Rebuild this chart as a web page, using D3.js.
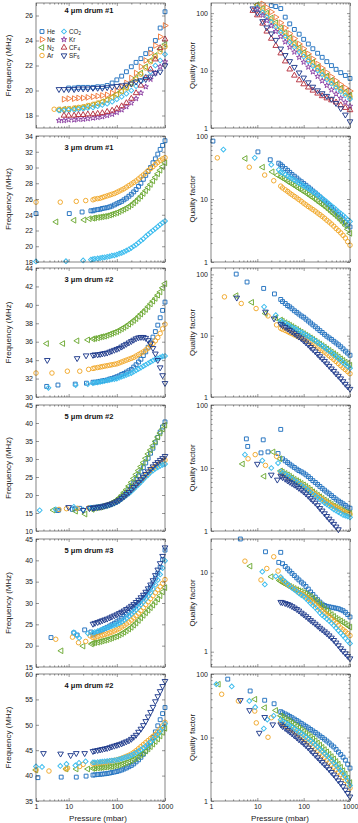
<!DOCTYPE html>
<html>
<head>
<meta charset="utf-8">
<script src="https://cdn.jsdelivr.net/npm/d3@7"></script>
<style>
body{margin:0;background:#fff}
text{font-family:"Liberation Sans",Arial,Helvetica,sans-serif}
</style>
</head>
<body>
<svg id="fig" width="358" height="823"></svg>
<script>
var svg = d3.select('#fig');
var n = null;

// ---- data (pressure in mbar, frequency in MHz, quality factor) ----
var gasNames = ['He','Ne','N2','Ar','CO2','Kr','CF4','SF6'];
var titles = ['4 \u03bcm drum #1','3 \u03bcm drum #1','3 \u03bcm drum #2','5 \u03bcm drum #2','5 \u03bcm drum #3','4 \u03bcm drum #2'];
var fTicks = [[18,20,22,24,26],[18,20,22,24,26,28,30,32,34],[30,32,34,36,38,40,42,44],
              [10,15,20,25,30,35,40,45],[15,20,25,30,35,40,45],[35,40,45,50,55,60]];
var qTicks = [[1,10,100],[1,10,100],[1,10,100],[1,10,100],[1,10],[1,10,100]];
var pTicks = [1,10,100,1000];

// dense part of the sweeps (devices 2-6)
var densP = [32,35,40,45,50,56,63,71,79,89,100,112,126,141,158,178,200,224,251,282,316,355,398,447,501,562,631,708,794,891,1000];

// device 1: 4 um drum #1 (one pressure list for all gases)
var d1_p = [5,6.3,8,10,13,16,20,25,32,40,50,63,80,100,126,158,200,251,316,398,501,631,794,1000];
var d1_He_f  = [n,n,n,20.2,20.2,20.25,20.25,20.25,20.25,20.3,20.3,20.4,20.6,20.85,21.15,21.5,21.9,22.25,22.55,22.95,23.3,24.0,25.0,26.3];
var d1_Ne_f  = [n,n,19.3,19.35,19.35,19.4,19.4,19.45,19.5,19.55,19.6,19.65,19.8,20.0,20.3,20.6,21.0,21.4,21.9,22.4,23.0,23.6,24.3,25.2];
var d1_N2_f  = [n,18.45,18.5,18.5,18.55,18.6,18.65,18.75,18.85,18.95,19.1,19.25,19.45,19.7,19.95,20.25,20.6,21.0,21.4,21.9,22.4,22.8,23.3,23.7];
var d1_Ar_f  = [18.5,18.5,18.5,18.55,18.6,18.65,18.7,18.8,18.9,19.0,19.1,19.25,19.45,19.65,19.9,20.2,20.5,20.9,21.3,21.8,22.3,22.7,23.1,23.5];
var d1_CO2_f = [n,18.4,18.4,18.45,18.45,18.5,18.55,18.6,18.65,18.75,18.85,18.95,19.1,19.3,19.5,19.75,20.0,20.35,20.75,21.1,21.5,22.0,22.4,22.9];
var d1_Kr_f  = [n,17.6,17.6,17.65,17.65,17.7,17.7,17.75,17.8,17.85,17.9,18.0,18.1,18.25,18.45,18.7,19.0,19.35,19.8,20.3,20.9,21.4,21.9,22.3];
var d1_CF4_f = [n,n,18.0,18.0,18.0,18.05,18.05,18.1,18.1,18.15,18.2,18.3,18.4,18.55,18.75,19.0,19.35,19.8,20.4,21.0,21.7,22.5,23.4,24.1];
var d1_SF6_f = [n,20.1,20.1,20.1,20.1,20.15,20.15,20.15,20.2,20.2,20.2,20.25,20.3,20.35,20.4,20.45,20.55,20.7,20.8,20.9,21.1,21.4,21.5,22.0];
var d1_He_q  = [n,n,n,n,n,n,135,130,120,85,65,52,43,35,29,24,20,17,14.3,12.2,10.5,9.2,8.2,7.3];
var d1_Ne_q  = [n,n,n,n,145,125,105,85,68,55,44,36,29,24,19.5,16,13,11,9.2,7.8,6.6,5.7,5.0,4.4];
var d1_N2_q  = [n,n,n,140,120,100,82,68,55,45,37,30,25,20.5,17,14,11.5,9.6,8.0,6.7,5.7,4.9,4.2,3.7];
var d1_Ar_q  = [n,n,n,135,112,92,76,62,50,41,34,28,23,19,15.5,13,10.8,9.0,7.5,6.3,5.3,4.6,4.0,3.5];
var d1_CO2_q = [n,n,n,125,103,85,70,57,46,38,31,25.5,21,17.5,14.5,12,10,8.4,7.0,5.9,5.0,4.3,3.7,3.2];
var d1_Kr_q  = [n,n,n,118,92,74,60,48,39,31.5,25.5,21,17,14,11.5,9.5,7.9,6.6,5.5,4.6,3.9,3.3,2.8,2.4];
var d1_CF4_q = [n,n,110,92,66,48,36,27,20,14.5,10.5,8.2,6.8,5.8,5.1,4.5,4.0,3.6,3.3,3.05,2.8,2.5,2.25,2.05];
var d1_SF6_q = [n,n,120,101,72,56,44,34,24,18.5,14.5,11.5,9.2,7.5,6.2,5.2,4.5,4.0,3.6,3.2,2.7,2.2,1.7,1.3];

// device 2: 3 um drum #1 (low-pressure points, then densP)
var d2_He_p  = [1.1,10.3,19,29];
var d2_He_f  = [24.15,24.15,24.35,24.5, 24.5,24.6,24.65,24.7,24.8,24.85,24.9,25.0,25.1,25.25,25.4,25.55,25.7,25.9,26.1,26.35,26.6,26.9,27.2,27.6,28.0,28.5,29.0,29.5,30.0,30.6,31.1,31.7,32.3,32.8,33.4];
var d2_He_q  = [83,56,42,37, 35,33,30.5,28.5,26.5,24.5,23,21.5,20,18.8,17.6,16.5,15.4,14.4,13.4,12.5,11.6,10.8,10.0,9.3,8.6,8.0,7.3,6.7,6.2,5.7,5.2,4.8,4.3,3.9,3.6];
var d2_N2_p  = [5.5,13,21,27];
var d2_N2_f  = [23.1,23.3,23.35,23.5, 23.55,23.6,23.65,23.7,23.75,23.8,23.85,23.95,24.05,24.15,24.25,24.4,24.55,24.7,24.85,25.05,25.25,25.5,25.75,26.05,26.35,26.7,27.05,27.45,27.85,28.3,28.75,29.2,29.65,30.1,30.6];
var d2_N2_q  = [44,32,27,24, 22.5,21.5,20.3,19.2,18.2,17.3,16.4,15.5,14.7,13.9,13.2,12.5,11.8,11.1,10.5,9.9,9.3,8.7,8.2,7.7,7.2,6.7,6.2,5.8,5.4,5.0,4.6,4.2,3.8,3.3,2.85];
var d2_Ar_p  = [1.37,6.7,14.4,22.6];
var d2_Ar_f  = [25.6,25.6,25.7,25.8, 25.9,26.0,26.05,26.1,26.2,26.3,26.4,26.5,26.6,26.7,26.85,27.0,27.15,27.3,27.5,27.7,27.9,28.1,28.3,28.55,28.8,29.05,29.3,29.6,29.85,30.1,30.4,30.65,30.9,31.1,31.25];
var d2_Ar_q  = [45,32,24,19.5, 16,15,14,13.2,12.4,11.7,11.0,10.4,9.8,9.2,8.6,8.1,7.6,7.2,6.8,6.4,6.0,5.65,5.3,4.95,4.6,4.3,4.0,3.7,3.4,3.15,2.9,2.65,2.4,2.1,1.85];
var d2_CO2_p = [1.85,8.8,20,29];
var d2_CO2_f = [18.07,18.1,18.2,18.3, 18.35,18.4,18.45,18.5,18.55,18.6,18.65,18.7,18.8,18.85,18.95,19.05,19.15,19.3,19.45,19.6,19.8,20.0,20.2,20.45,20.7,20.95,21.25,21.5,21.75,22.0,22.25,22.5,22.75,23.0,23.2];
var d2_CO2_q = [61,45,35,29, 27,26,24.5,23,22,21,20,19,18,17,16.2,15.4,14.6,13.8,13.0,12.3,11.6,10.9,10.2,9.6,9.0,8.4,7.8,7.3,6.8,6.3,5.9,5.5,5.1,4.7,4.4];

// device 3: 3 um drum #2
var d3_He_p  = [3.5,6,13.7,23.4];
var d3_He_f  = [31.15,31.3,31.4,31.5, 31.6,31.6,31.65,31.7,31.75,31.8,31.85,31.95,32.0,32.1,32.2,32.3,32.45,32.55,32.7,32.85,33.0,33.25,33.5,33.8,34.1,34.5,34.9,35.4,35.9,36.5,37.1,37.8,38.6,39.4,40.3];
var d3_He_q  = [101,75,59,48, 39,36,33.5,31,29.5,27.5,25.5,24,22.5,21,20,18.6,17.3,16.1,15,14,13,12.1,11.3,10.5,9.8,9.2,8.7,8.1,7.6,7.1,6.6,6.1,5.6,5.2,4.8];
var d3_N2_p  = [3.5,7.6,15,25];
var d3_N2_f  = [35.8,35.8,36.1,36.2, 36.3,36.35,36.4,36.5,36.55,36.6,36.7,36.8,36.9,37.0,37.1,37.25,37.4,37.55,37.7,37.9,38.1,38.3,38.5,38.75,39.0,39.25,39.5,39.8,40.1,40.4,40.7,41.05,41.4,41.85,42.3];
var d3_N2_q  = [45,35,23,19.5, 18,17.2,16.3,15.5,14.8,14.1,13.4,12.7,12,11.4,10.8,10.2,9.7,9.2,8.7,8.2,7.7,7.3,6.9,6.5,6.1,5.75,5.4,5.1,4.8,4.5,4.2,3.95,3.7,3.5,3.3];
var d3_Ar_p  = [1.95,4.5,9.4,17,26];
var d3_Ar_f  = [32.6,32.6,32.8,32.8,33.0, 33.1,33.15,33.2,33.25,33.3,33.35,33.4,33.45,33.5,33.55,33.6,33.7,33.8,33.9,34.0,34.1,34.2,34.3,34.45,34.6,34.75,34.9,35.1,35.3,35.55,35.8,36.1,36.45,36.9,37.4,37.9];
var d3_Ar_q  = [43,33.5,27.7,21,15, 13.2,12.7,12.2,11.7,11.2,10.8,10.3,9.9,9.5,9.2,8.9,8.5,8.1,7.7,7.3,6.9,6.5,6.1,5.75,5.4,5.05,4.7,4.4,4.1,3.8,3.5,3.25,3.0,2.8,2.6,2.4];
var d3_CO2_p = [3.8,14,25];
var d3_CO2_f = [31.0,31.3,31.4, 31.5,31.55,31.6,31.65,31.7,31.75,31.8,31.85,31.9,31.95,32.0,32.1,32.2,32.3,32.4,32.5,32.6,32.75,32.9,33.05,33.2,33.35,33.5,33.65,33.8,33.95,34.1,34.2,34.3,34.4,34.45];
var d3_CO2_q = [n,29.5,21.6, 17.5,16.7,15.9,15.1,14.4,13.7,13.1,12.5,11.9,11.3,10.8,10.2,9.7,9.2,8.7,8.2,7.7,7.25,6.8,6.4,6.0,5.6,5.25,4.9,4.55,4.25,3.95,3.65,3.4,3.15,2.95];
var d3_SF6_p = [3.6,15,23];
var d3_SF6_f = [34.0,34.2,34.5, 34.55,34.6,34.6,34.65,34.7,34.75,34.8,34.9,35.0,35.1,35.2,35.3,35.45,35.6,35.75,35.9,36.05,36.2,36.35,36.45,36.5,36.5,36.4,36.15,35.8,35.3,34.7,34.0,33.2,32.35,31.5];
var d3_SF6_q = [41.5,24.5,19, 15.5,14.6,13.8,13,12.3,11.6,10.9,10.2,9.6,9,8.3,7.7,7.1,6.5,6.0,5.5,5.0,4.6,4.2,3.85,3.5,3.2,2.9,2.65,2.4,2.2,2.0,1.8,1.63,1.48,1.35];

// device 4: 5 um drum #2
var d4_He_p  = [5.8,6.2,12,13.4,17,28];
var d4_He_f  = [15.7,15.8,16.0,16.2,16.3,16.5, 16.5,16.6,16.7,16.8,16.9,17.0,17.2,17.4,17.6,17.9,18.3,18.8,19.4,20.0,20.7,21.5,22.4,23.3,24.3,25.3,26.4,27.6,28.9,30.2,31.6,33.0,34.5,36.0,37.5,38.9,40.3];
var d4_He_q  = [29,22,17.4,28,18,17, 41,14,13,12.2,11.5,10.8,10.2,9.6,9.1,8.7,8.3,7.8,7.3,6.8,6.3,5.9,5.5,5.1,4.75,4.45,4.15,3.9,3.65,3.4,3.2,3.0,2.85,2.7,2.55,2.4,2.3];
var d4_N2_p  = [4.8,14,22,31];
var d4_N2_f  = [15.8,15.5,14.7,16.0, 16.3,16.4,16.5,16.6,16.8,17.0,17.2,17.5,17.8,18.2,18.6,19.2,19.9,20.7,21.5,22.5,23.5,24.6,25.7,26.8,27.9,29.0,30.2,31.4,32.5,33.7,34.9,36.1,37.2,38.3,39.4];
var d4_N2_q  = [11.6,7.4,18,14, 9,8.6,8.2,7.8,7.4,7.0,6.6,6.3,6.0,5.7,5.4,5.1,4.8,4.5,4.2,3.95,3.7,3.5,3.3,3.1,2.95,2.8,2.65,2.5,2.4,2.3,2.2,2.1,2.0,1.95,1.9];
var d4_Ar_p  = [6.3,9,15,26];
var d4_Ar_f  = [16.0,16.2,16.3,16.4, 16.3,16.4,16.5,16.6,16.7,16.9,17.1,17.3,17.5,17.8,18.1,18.5,19.0,19.5,20.0,20.6,21.3,21.9,22.6,23.3,24.0,24.7,25.4,26.1,26.8,27.4,27.9,28.4,28.9,29.3,29.7];
var d4_Ar_q  = [14,16.3,11,15.3, 8.5,8.1,7.7,7.3,7.0,6.6,6.3,6.0,5.7,5.4,5.1,4.8,4.55,4.3,4.05,3.8,3.6,3.4,3.2,3.0,2.85,2.7,2.55,2.45,2.35,2.25,2.15,2.05,1.95,1.9,1.85];
var d4_CO2_p = [2.5,5.4,12.8,20,28];
var d4_CO2_f = [15.75,16.0,16.7,15.9,16.4, 16.3,16.4,16.5,16.6,16.7,16.85,17.0,17.2,17.4,17.7,18.0,18.4,18.9,19.4,19.9,20.4,21.0,21.6,22.3,22.9,23.6,24.3,25.0,25.6,26.3,26.8,27.3,27.7,28.1,28.4,28.6];
var d4_CO2_q = [n,16.3,13.1,10,12, 8.8,8.3,7.9,7.5,7.1,6.7,6.3,6.0,5.6,5.3,5.0,4.7,4.4,4.1,3.85,3.6,3.4,3.2,3.0,2.8,2.65,2.5,2.35,2.2,2.1,2.0,1.9,1.8,1.75,1.7,1.65];
var d4_SF6_p = [10,20,27];
var d4_SF6_f = [16.6,15.8,16.3, 16.4,16.5,16.6,16.7,16.8,17.0,17.2,17.4,17.6,17.9,18.2,18.6,19.1,19.6,20.2,20.8,21.5,22.2,22.9,23.6,24.3,25.0,25.8,26.5,27.2,27.9,28.6,29.1,29.7,30.2,30.8];
var d4_SF6_q = [11.6,7.8,6.5, 7.5,7.1,6.7,6.3,6.0,5.7,5.4,5.1,4.8,4.5,4.2,3.9,3.6,3.3,3.05,2.8,2.55,2.3,2.1,1.9,1.72,1.56,1.42,1.29,1.17,1.06,0.96,0.87,0.79,0.72,0.66];

// device 5: 5 um drum #3
var d5_He_p  = [4.3,12.8,15,21.5,29];
var d5_He_f  = [21.9,23.0,22.5,23.7,23.2, 22.5,22.8,23.1,23.4,23.7,24.0,24.3,24.6,24.9,25.25,25.6,26.0,26.4,26.85,27.3,27.8,28.3,28.85,29.4,30.0,30.65,31.3,32.0,32.8,33.7,34.7,35.8,37.0,38.4,40.2,42.4];
var d5_He_q  = [26.7,n,18.4,n,13.5, 18.1,13,12,11.2,10.5,9.8,9.2,8.6,8.1,7.6,7.2,6.7,6.2,5.7,5.3,4.9,4.55,4.25,4.0,3.85,3.75,3.7,3.65,3.6,3.55,3.5,3.4,3.3,3.15,2.95,2.75];
var d5_N2_p  = [7,20,30];
var d5_N2_f  = [18.8,19.9,20.4, 20.6,20.7,20.8,20.95,21.1,21.25,21.4,21.6,21.8,22.0,22.2,22.5,22.8,23.15,23.5,23.9,24.3,24.8,25.3,25.9,26.5,27.1,27.7,28.3,28.9,29.5,30.2,30.9,31.7,32.6,33.6];
var d5_N2_q  = [12.1,8.9,8, 7.8,7.5,7.2,6.9,6.7,6.5,6.3,6.1,5.9,5.8,5.6,5.4,5.2,5.0,4.75,4.5,4.25,4.0,3.75,3.5,3.3,3.1,2.95,2.8,2.65,2.55,2.45,2.35,2.25,2.15,2.05];
var d5_Ar_p  = [5.4,12,16,22.6,28];
var d5_Ar_f  = [21.5,22.0,20.7,21.0,22.3, 21.9,22.0,22.15,22.3,22.45,22.6,22.8,23.0,23.2,23.45,23.7,24.0,24.35,24.7,25.1,25.5,26.0,26.5,27.0,27.6,28.2,28.9,29.6,30.3,31.0,31.7,32.4,33.1,33.8,34.6,35.5];
var d5_Ar_q  = [14,8.1,11.3,15.9,10.5, 8.5,8.0,7.5,7.1,6.8,6.5,6.2,5.9,5.6,5.4,5.2,4.95,4.7,4.45,4.2,3.95,3.7,3.5,3.3,3.1,2.95,2.8,2.6,2.45,2.3,2.15,2.0,1.9,1.8,1.7,1.6];
var d5_CO2_p = [12.8,14.5,16.5,25];
var d5_CO2_f = [23.1,22.5,21.8,22.9, 23.0,23.2,23.4,23.6,23.8,24.0,24.2,24.4,24.6,24.8,25.0,25.3,25.6,26.0,26.4,26.9,27.4,27.9,28.4,29.0,29.6,30.2,30.9,31.6,32.4,33.3,34.3,35.4,36.7,38.2,39.9];
var d5_CO2_q = [10.3,7.1,n,9, 8.8,8.2,7.7,7.2,6.8,6.4,6.1,5.8,5.5,5.2,5.0,4.7,4.4,4.1,3.85,3.6,3.35,3.1,2.9,2.75,2.6,2.45,2.3,2.15,2.0,1.85,1.72,1.6,1.48,1.37,1.27];
var d5_SF6_p = [];
var d5_SF6_f = [25.1,25.3,25.5,25.7,25.9,26.1,26.3,26.55,26.8,27.05,27.3,27.6,27.9,28.2,28.55,28.9,29.3,29.7,30.2,30.7,31.3,31.9,32.6,33.4,34.3,35.3,36.5,37.8,39.3,41.0,43.0];
var d5_SF6_q = [4.25,4.2,4.1,4.0,3.9,3.75,3.6,3.45,3.3,3.1,2.95,2.8,2.65,2.5,2.38,2.25,2.12,2.0,1.9,1.8,1.7,1.6,1.5,1.4,1.3,1.2,1.1,1.02,0.95,0.88,0.82];

// device 6: 4 um drum #2
var d6_He_p  = [2.3,7.0,14.4,23];
var d6_He_f  = [39.6,39.7,39.7,39.9, 40.1,40.15,40.2,40.25,40.3,40.35,40.4,40.5,40.6,40.7,40.8,40.95,41.1,41.3,41.5,41.75,42.0,42.3,42.7,43.1,43.6,44.2,44.8,45.6,46.5,47.5,48.6,49.8,51.0,52.2,53.4];
var d6_He_q  = [83,54,38.6,34, 25.5,24.5,23.5,22.5,21.5,20.5,19.5,18.5,17.6,16.7,15.8,15,14.2,13.4,12.7,12,11.3,10.6,10,9.4,8.8,8.2,7.6,7.1,6.5,5.9,5.4,4.9,4.4,3.8,3.3];
var d6_N2_p  = [1.45,8.9,14.4,25];
var d6_N2_f  = [41.1,41.3,41.3,41.3, 41.4,41.45,41.5,41.55,41.6,41.65,41.7,41.75,41.8,41.9,42.0,42.1,42.25,42.4,42.55,42.75,42.95,43.2,43.45,43.75,44.1,44.45,44.85,45.25,45.7,46.2,46.7,47.2,47.8,48.5,49.3];
var d6_N2_q  = [69,40,29.5,26.7, 22,21,20,19,18,17,16,15.1,14.2,13.3,12.5,11.7,11,10.3,9.6,8.9,8.2,7.6,7.0,6.45,5.95,5.45,5.0,4.6,4.2,3.8,3.4,3.0,2.65,2.3,1.95];
var d6_Ar_p  = [1.7,3.9,8.8,9.5,17,20];
var d6_Ar_f  = [41.1,40.9,41.3,41.5,41.8,42.2, 42.3,42.4,42.45,42.5,42.55,42.6,42.7,42.8,42.9,43.0,43.1,43.25,43.4,43.6,43.8,44.0,44.25,44.55,44.9,45.3,45.7,46.1,46.5,46.9,47.3,47.7,48.1,48.6,49.2,49.8,50.5];
var d6_Ar_q  = [48,37.6,26.1,17,10.1,20.5, 17.5,16.5,15.6,14.8,14,13.2,12.4,11.7,11,10.3,9.6,9.0,8.4,7.8,7.2,6.6,6.1,5.6,5.2,4.8,4.4,4.05,3.7,3.4,3.1,2.85,2.6,2.35,2.1,1.85,1.6];
var d6_CO2_p = [1.3,2.8,6.7,9,13.8,16.4,22.5];
var d6_CO2_f = [41.8,41.7,41.9,42.3,42.0,42.5,42.8, 42.6,42.6,42.65,42.7,42.75,42.8,42.85,42.9,42.95,43.0,43.1,43.2,43.35,43.5,43.65,43.8,44.0,44.25,44.5,44.8,45.1,45.45,45.8,46.2,46.6,47.1,47.6,48.1,48.7,49.4,50.2];
var d6_CO2_q = [69,63.6,37.6,30,13.8,19.2,22, 19,18,17,16.2,15.4,14.6,13.8,13,12.3,11.6,10.9,10.2,9.5,8.9,8.3,7.7,7.1,6.6,6.1,5.6,5.2,4.8,4.4,4.0,3.65,3.3,3.0,2.7,2.4,2.1,1.75];
var d6_SF6_p = [3.0,4.3,6.8,11,14.4,21.5];
var d6_SF6_f = [44.4,n,44.3,44.0,44.4,44.4, 44.8,44.9,45.0,45.1,45.2,45.3,45.4,45.55,45.7,45.85,46.0,46.15,46.3,46.5,46.7,46.9,47.2,47.6,48.0,48.6,49.2,49.9,50.7,51.6,52.5,53.5,54.6,55.6,56.6,57.6,58.6];
var d6_SF6_q = [n,38.6,26.8,11.8,20.9,16.0, 16,15,14,13.1,12.3,11.5,10.7,10,9.3,8.7,8.1,7.5,6.9,6.3,5.8,5.3,4.85,4.45,4.1,3.75,3.45,3.15,2.85,2.6,2.35,2.1,1.9,1.7,1.5,1.33,1.17];

// ---- series table built from the arrays ----
function sweep(gas, lowP, f, q) { return {gas: gas, p: lowP.concat(densP), f: f, q: q}; }
var devices = [
  [['He',d1_He_f,d1_He_q],['Ne',d1_Ne_f,d1_Ne_q],['N2',d1_N2_f,d1_N2_q],['Ar',d1_Ar_f,d1_Ar_q],
   ['CO2',d1_CO2_f,d1_CO2_q],['Kr',d1_Kr_f,d1_Kr_q],['CF4',d1_CF4_f,d1_CF4_q],['SF6',d1_SF6_f,d1_SF6_q]]
    .map(function(s){ return {gas: s[0], p: d1_p, f: s[1], q: s[2]}; }),
  [sweep('He',d2_He_p,d2_He_f,d2_He_q), sweep('N2',d2_N2_p,d2_N2_f,d2_N2_q),
   sweep('Ar',d2_Ar_p,d2_Ar_f,d2_Ar_q), sweep('CO2',d2_CO2_p,d2_CO2_f,d2_CO2_q)],
  [sweep('He',d3_He_p,d3_He_f,d3_He_q), sweep('N2',d3_N2_p,d3_N2_f,d3_N2_q), sweep('Ar',d3_Ar_p,d3_Ar_f,d3_Ar_q),
   sweep('CO2',d3_CO2_p,d3_CO2_f,d3_CO2_q), sweep('SF6',d3_SF6_p,d3_SF6_f,d3_SF6_q)],
  [sweep('He',d4_He_p,d4_He_f,d4_He_q), sweep('N2',d4_N2_p,d4_N2_f,d4_N2_q), sweep('Ar',d4_Ar_p,d4_Ar_f,d4_Ar_q),
   sweep('CO2',d4_CO2_p,d4_CO2_f,d4_CO2_q), sweep('SF6',d4_SF6_p,d4_SF6_f,d4_SF6_q)],
  [sweep('He',d5_He_p,d5_He_f,d5_He_q), sweep('N2',d5_N2_p,d5_N2_f,d5_N2_q), sweep('Ar',d5_Ar_p,d5_Ar_f,d5_Ar_q),
   sweep('CO2',d5_CO2_p,d5_CO2_f,d5_CO2_q), sweep('SF6',d5_SF6_p,d5_SF6_f,d5_SF6_q)],
  [sweep('He',d6_He_p,d6_He_f,d6_He_q), sweep('N2',d6_N2_p,d6_N2_f,d6_N2_q), sweep('Ar',d6_Ar_p,d6_Ar_f,d6_Ar_q),
   sweep('CO2',d6_CO2_p,d6_CO2_f,d6_CO2_q), sweep('SF6',d6_SF6_p,d6_SF6_f,d6_SF6_q)]
];

// ---- styles ----
var color = {He:'#2272c0', Ne:'#f07b3f', N2:'#6eaa35', Ar:'#f0a82a', CO2:'#3cbcee', Kr:'#8c3fa2', CF4:'#b5313f', SF6:'#203b8c'};
var shape = {He:['sq',0], Ne:['tri',90], N2:['tri',-90], Ar:['circ',0], CO2:['dia',45], Kr:['star',0], CF4:['tri',0], SF6:['tri',180]};
var symbols = {
  sq: d3.symbol().type(d3.symbolSquare).size(15)(),
  dia: d3.symbol().type(d3.symbolSquare).size(12)(),
  tri: d3.symbol().type(d3.symbolTriangle).size(14)(),
  circ: d3.symbol().type(d3.symbolCircle).size(16)(),
  star: d3.symbol().type(d3.symbolStar).size(9)()
};
var sub = {N2:['N','2'], CO2:['CO','2'], CF4:['CF','4'], SF6:['SF','6']};

// ---- layout ----
var tops = [3,136,268,405,539,674], bots = [128,262,397,531,667,801];
var fDom = [[17,27],[18,34],[30,44],[10,45],[15,45],[35,60]];
var qDom = [[1,150],[1,100],[1,127],[1,100],[0.64,26.7],[1,100]];
var xL = d3.scaleLog().domain([2.1,1000]).range([36,165]).clamp(true);
var xR = d3.scaleLog().domain([1,1000]).range([211,350]);

function logMinors(lo, hi) {
  var out = [];
  for (var e = -1; e <= 3; e++) for (var k = 2; k <= 9; k++) {
    var v = k * Math.pow(10, e);
    if (v > lo * 1.001 && v < hi * 0.999) out.push(v);
  }
  return out;
}

function styleAxis(sel) {
  sel.select('.domain').remove();
  sel.selectAll('line').attr('stroke', '#333').attr('stroke-width', 0.5);
  sel.selectAll('text').attr('fill', '#222').style('font-size', '7px')
    .style('font-family', '"Liberation Sans",Arial,sans-serif');
}

function drawBox(x, y, yMaj, yMin, xLabels) {
  var xr = x.range(), yr = y.range();
  var none = function(){ return ''; };
  var g = svg.append('g');
  var xMin = logMinors(x.domain()[0], 1000);
  g.append('g').attr('transform', 'translate(' + xr[0] + ',0)')
    .call(d3.axisLeft(y).tickValues(yMaj).tickSize(-3).tickPadding(3).tickFormat(function(d){ return d; })).call(styleAxis);
  g.append('g').attr('transform', 'translate(' + xr[1] + ',0)')
    .call(d3.axisRight(y).tickValues(yMaj).tickSize(-3).tickFormat(none)).call(styleAxis);
  if (yMin.length) {
    g.append('g').attr('transform', 'translate(' + xr[0] + ',0)')
      .call(d3.axisLeft(y).tickValues(yMin).tickSize(-1.6).tickFormat(none)).call(styleAxis);
    g.append('g').attr('transform', 'translate(' + xr[1] + ',0)')
      .call(d3.axisRight(y).tickValues(yMin).tickSize(-1.6).tickFormat(none)).call(styleAxis);
  }
  g.append('g').attr('transform', 'translate(0,' + yr[0] + ')')
    .call(d3.axisBottom(x).tickValues(pTicks).tickSize(-3).tickPadding(3).tickFormat(xLabels ? function(d){ return d; } : none)).call(styleAxis);
  g.append('g').attr('transform', 'translate(0,' + yr[1] + ')')
    .call(d3.axisTop(x).tickValues(pTicks).tickSize(-3).tickFormat(none)).call(styleAxis);
  g.append('g').attr('transform', 'translate(0,' + yr[0] + ')')
    .call(d3.axisBottom(x).tickValues(xMin).tickSize(-1.6).tickFormat(none)).call(styleAxis);
  g.append('g').attr('transform', 'translate(0,' + yr[1] + ')')
    .call(d3.axisTop(x).tickValues(xMin).tickSize(-1.6).tickFormat(none)).call(styleAxis);
  g.append('rect').attr('x', xr[0]).attr('y', yr[1]).attr('width', xr[1] - xr[0]).attr('height', yr[0] - yr[1])
    .attr('fill', 'none').attr('stroke', '#333').attr('stroke-width', 0.6);
}

function marker(g, gas, px, py) {
  var s = shape[gas];
  g.append('path').attr('d', symbols[s[0]])
    .attr('transform', 'translate(' + px.toFixed(2) + ',' + py.toFixed(2) + ')' + (s[1] ? ' rotate(' + s[1] + ')' : ''))
    .attr('fill', 'none').attr('stroke', color[gas]).attr('stroke-width', 0.95);
}

devices.forEach(function(dev, i) {
  var yF = d3.scaleLinear().domain(fDom[i]).range([bots[i], tops[i]]);
  var yQ = d3.scaleLog().domain(qDom[i]).range([bots[i], tops[i]]);
  var last = i === devices.length - 1;

  var gl = svg.append('g'), gr = svg.append('g');
  dev.forEach(function(s) {
    s.p.forEach(function(p, j) {
      var f = s.f[j], q = s.q[j];
      if (f != null && f >= fDom[i][0] && f <= fDom[i][1]) marker(gl, s.gas, xL(p), yF(f));
      if (q != null && q >= qDom[i][0] && q <= qDom[i][1]) marker(gr, s.gas, xR(p), yQ(q));
    });
  });

  drawBox(xL, yF, fTicks[i], [], last);
  drawBox(xR, yQ, qTicks[i], logMinors(qDom[i][0], qDom[i][1]), last);

  var cy = (tops[i] + bots[i]) / 2;
  svg.append('text').attr('transform', 'translate(11,' + cy + ') rotate(-90)')
    .attr('text-anchor', 'middle').style('font-size', '8px').attr('fill', '#222').text('Frequency (MHz)');
  svg.append('text').attr('transform', 'translate(195,' + cy + ') rotate(-90)')
    .attr('text-anchor', 'middle').style('font-size', '8px').attr('fill', '#222').text('Quality factor');
  svg.append('text').attr('x', 89).attr('y', tops[i] + (i === 0 ? 10 : 13.5))
    .attr('text-anchor', 'middle').style('font-size', '7.5px').style('font-weight', 'bold').attr('fill', '#111').text(titles[i]);
});

// x-axis titles
svg.append('text').attr('x', 98).attr('y', 821).attr('text-anchor', 'middle').style('font-size', '8px').attr('fill', '#222').text('Pressure (mbar)');
svg.append('text').attr('x', 280).attr('y', 821).attr('text-anchor', 'middle').style('font-size', '8px').attr('fill', '#222').text('Pressure (mbar)');

// legend in the first frequency panel
var leg = svg.append('g');
gasNames.forEach(function(gas, k) {
  var col = k < 4 ? 0 : 1, row = k % 4;
  var lx = [42, 64][col], ly = 31.5 + row * 8;
  marker(leg, gas, lx, ly);
  var t = leg.append('text').attr('x', lx + 5).attr('y', ly + 2.2).style('font-size', '6.3px').attr('fill', '#222');
  if (sub[gas]) {
    t.append('tspan').text(sub[gas][0]);
    t.append('tspan').attr('dy', 1.6).style('font-size', '4.5px').text(sub[gas][1]);
  } else t.text(gas);
});
</script>
</body>
</html>
